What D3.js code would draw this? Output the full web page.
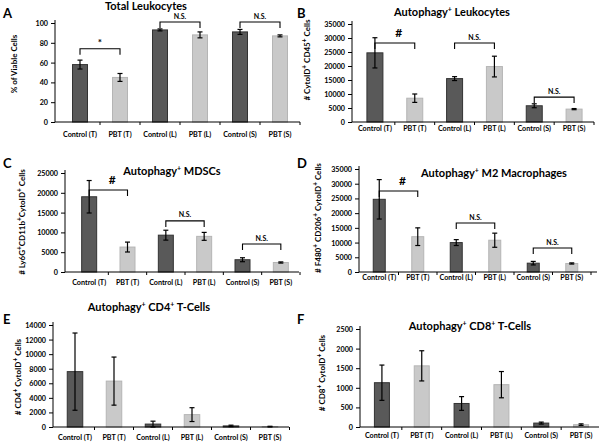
<!DOCTYPE html>
<html><head><meta charset="utf-8">
<script src="https://cdn.jsdelivr.net/npm/d3@7"></script>
<style>
html,body{margin:0;padding:0;background:#fff;}
svg text{font-family:Lato,"Open Sans",sans-serif;font-weight:bold;fill:#000;}
</style></head>
<body>
<svg id="c" width="600" height="443"></svg>
<script>
// ---------- DATA ----------
const categories = ["Control (T)","PBT (T)","Control (L)","PBT (L)","Control (S)","PBT (S)"];

const valuesA = [58, 45, 93, 88, 91, 87];
const errorsA = [4.5, 4, 1, 3, 2.5, 1];
const ticksA = [0, 20, 40, 60, 80, 100];

const valuesB = [24700, 8500, 15500, 19800, 5800, 4600];
const errorsB = [5400, 1500, 700, 3700, 700, 200];
const ticksB = [0, 5000, 10000, 15000, 20000, 25000, 30000, 35000];

const valuesC = [19000, 6300, 9300, 9000, 3100, 2400];
const errorsC = [4100, 1250, 1250, 1000, 500, 150];
const ticksC = [0, 5000, 10000, 15000, 20000, 25000];

const valuesD = [24700, 12000, 10000, 10800, 3000, 2900];
const errorsD = [6700, 3000, 1000, 2400, 600, 200];
const ticksD = [0, 5000, 10000, 15000, 20000, 25000, 30000, 35000];

const valuesE = [7600, 6300, 400, 1700, 150, 50];
const errorsE = [5300, 3300, 400, 950, 100, 50];
const ticksE = [0, 2000, 4000, 6000, 8000, 10000, 12000, 14000];

const valuesF = [1130, 1560, 600, 1080, 100, 60];
const errorsF = [450, 385, 175, 335, 25, 20];
const ticksF = [0, 500, 1000, 1500, 2000, 2500];

// significance brackets: [fromIndex, toIndex, level (data units), label]
const bracketsA = [[0, 1, 74, "*"], [2, 3, 101, "N.S."], [4, 5, 101, "N.S."]];
const bracketsB = [[0, 1, 28200, "#"], [2, 3, 28200, "N.S."], [4, 5, 8900, "N.S."]];
const bracketsC = [[0, 1, 20700, "#"], [2, 3, 12900, "N.S."], [4, 5, 7070, "N.S."]];
const bracketsD = [[0, 1, 27500, "#"], [2, 3, 16650, "N.S."], [4, 5, 8150, "N.S."]];
const bracketsE = [];
const bracketsF = [];

const titles = ["Total Leukocytes", "Autophagy|+| Leukocytes", "Autophagy|+| MDSCs",
  "Autophagy|+| M2 Macrophages", "Autophagy|+| CD4|+| T-Cells", "Autophagy|+| CD8|+| T-Cells"];
const yLabels = ["% of Viable Cells", "# CytoID|+| CD45|+| Cells", "# Ly6G|+|CD11b|+|CytoID|+| Cells",
  "# F480|+| CD206|+| CytoID|+| Cells", "# CD4|+| CytoID|+| Cells", "# CD8|+| CytoID|+| Cells"];
const letters = ["A", "B", "C", "D", "E", "F"];

// ---------- LAYOUT (pixels) ----------
const layout = [
  {ax:55, band:[60,300], axEnd:300, y0:122, y1:23, bw:15, lx:14, ly:64, lab:137, tx:146, ty:10, Lx:3, Ly:18},
  {ax:352, band:[355,594], axEnd:594, y0:122, y1:24, bw:16, lx:307, ly:60, lab:131, tx:452, ty:16, Lx:297, Ly:18},
  {ax:65, band:[70,300], axEnd:299, y0:272, y1:173, bw:15, lx:22, ly:222, lab:285, tx:172, ty:175, Lx:3, Ly:168},
  {ax:359, band:[360,591], axEnd:597, y0:272, y1:169, bw:12, lx:318, ly:218, lab:280, tx:494, ty:177, Lx:297, Ly:168},
  {ax:53, band:[55.5,289.5], axEnd:289, y0:427, y1:325, bw:15.5, lx:18, ly:377, lab:440, tx:149, ty:311, Lx:3, Ly:324},
  {ax:360, band:[362,601], axEnd:599, y0:427, y1:329, bw:15, lx:322, ly:373, lab:438, tx:470, ty:330, Lx:297, Ly:324}
];

const panels = [
  [valuesA, errorsA, ticksA, bracketsA],
  [valuesB, errorsB, ticksB, bracketsB],
  [valuesC, errorsC, ticksC, bracketsC],
  [valuesD, errorsD, ticksD, bracketsD],
  [valuesE, errorsE, ticksE, bracketsE],
  [valuesF, errorsF, ticksF, bracketsF]
];

const svg = d3.select("#c");
const darkFill = "#595959", darkStroke = "#333", lightFill = "#c9c9c9", lightStroke = "#b5b5b5";

function richText(sel, str, supSize) {
  str.split("|").forEach((part, i) => {
    if (i % 2 === 1) {
      sel.append("tspan").attr("baseline-shift", "super").attr("font-size", supSize).text(part);
    } else if (part.length) {
      sel.append("tspan").text(part);
    }
  });
}

panels.forEach(([vals, errs, ticks, brackets], p) => {
  const L = layout[p];
  const g = svg.append("g");
  const x = d3.scaleBand().domain(categories).range(L.band);
  const y = d3.scaleLinear().domain([0, ticks[ticks.length - 1]]).range([L.y0, L.y1]);

  // bars
  g.selectAll("rect.bar").data(vals).join("rect")
    .attr("x", (d, i) => x(categories[i]) + x.bandwidth() / 2 - L.bw / 2)
    .attr("width", L.bw)
    .attr("y", d => y(d))
    .attr("height", d => y(0) - y(d))
    .attr("fill", (d, i) => i % 2 === 0 ? darkFill : lightFill)
    .attr("stroke", (d, i) => i % 2 === 0 ? darkStroke : lightStroke)
    .attr("stroke-width", 1);

  // error bars
  vals.forEach((v, i) => {
    const cx = x(categories[i]) + x.bandwidth() / 2;
    const lo = Math.max(0, v - errs[i]), hi = v + errs[i];
    const eg = g.append("g").attr("stroke", "#000").attr("stroke-width", 1.2);
    eg.append("line").attr("x1", cx).attr("x2", cx).attr("y1", y(lo)).attr("y2", y(hi));
    eg.append("line").attr("x1", cx - 2.5).attr("x2", cx + 2.5).attr("y1", y(lo)).attr("y2", y(lo));
    eg.append("line").attr("x1", cx - 2.5).attr("x2", cx + 2.5).attr("y1", y(hi)).attr("y2", y(hi));
  });

  // y axis
  const ya = d3.axisLeft(y).tickValues(ticks).tickFormat(d3.format("d")).tickSize(4).tickSizeOuter(0);
  const yg = g.append("g").attr("transform", `translate(${L.ax},0)`).call(ya);
  yg.select(".domain").attr("stroke", "#000").attr("d", `M0,${L.y1 - 3}V${L.y0}`);
  yg.selectAll(".tick line").attr("stroke", "#000");
  yg.selectAll(".tick text").attr("font-size", 7.2).attr("x", -7).attr("dy", "0.35em")
    .style("font-family", "Lato, sans-serif").style("font-weight", "bold");

  // x axis line + ticks
  g.append("line").attr("x1", L.ax).attr("x2", L.axEnd).attr("y1", L.y0).attr("y2", L.y0)
    .attr("stroke", "#000").attr("stroke-width", 1);
  categories.forEach((c, i) => {
    const bx = x(c) + x.bandwidth();
    g.append("line").attr("x1", bx).attr("x2", bx).attr("y1", L.y0).attr("y2", L.y0 + 3)
      .attr("stroke", "#000");
    g.append("text").attr("x", x(c) + x.bandwidth() / 2).attr("y", L.lab)
      .attr("text-anchor", "middle").attr("font-size", 7.2).text(c);
  });

  // brackets
  brackets.forEach(([a, b, lvl, lab]) => {
    const x1 = x(categories[a]) + x.bandwidth() / 2, x2 = x(categories[b]) + x.bandwidth() / 2;
    const yy = y(lvl);
    g.append("path").attr("d", `M${x1},${yy + 6}V${yy}H${x2}V${yy + 6}`)
      .attr("fill", "none").attr("stroke", "#000").attr("stroke-width", 1.1);
    const big = lab === "#";
    g.append("text").attr("x", (x1 + x2) / 2 + (big ? 4 : 0)).attr("y", yy - (big ? 6 : lab === "*" ? 3 : 3.5))
      .attr("text-anchor", "middle").attr("font-size", big ? 12 : lab === "*" ? 10 : 7).text(lab);
  });

  // y label
  const yl = g.append("text").attr("transform", `translate(${L.lx},${L.ly}) rotate(-90)`)
    .attr("text-anchor", "middle").attr("dy", "0.35em").attr("font-size", 8);
  richText(yl, yLabels[p], 6.5);

  // title
  const t = g.append("text").attr("x", L.tx).attr("y", L.ty).attr("text-anchor", "middle").attr("font-size", 11);
  richText(t, titles[p], 7);

  // letter
  g.append("text").attr("x", L.Lx).attr("y", L.Ly).attr("font-size", 13).text(letters[p]);
});
</script>
</body></html>
